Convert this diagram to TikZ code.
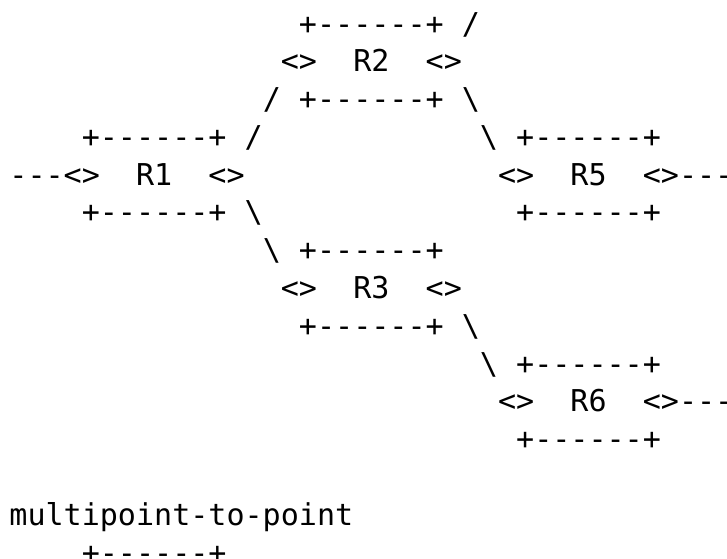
\documentclass[tikz,border=0pt]{standalone}
\usepackage{fontspec}
\setmonofont{DejaVu Sans Mono}
\newcommand{\asciifont}{\ttfamily\fontsize{15.03pt}{18pt}\selectfont}
\tikzset{ascii/.style={anchor=base west, inner sep=0pt, outer sep=0pt, font=\asciifont}}

\begin{document}
\begin{tikzpicture}[x=9.05pt, y=-18.9pt]
		%%%%% START %%%%%
		\useasboundingbox (-0.52, -0.90) rectangle (39.65, 13.888);
		
		% R2
		\node[ascii] (r2top) at (16, 0) {+------+};
		\node[ascii] (r2upout) at (25, 0) {/};
		\node[ascii] (r2left) at (15, 1) {<>};
		\node[ascii] (r2name) at (19, 1) {R2};
		\node[ascii] (r2right) at (23, 1) {<>};
		\node[ascii] (r2upin) at (14, 2) {/};
		\node[ascii] (r2bot) at (16, 2) {+------+};
		\node[ascii] (r2down) at (25, 2) {\textbackslash};
		
		% R1 and R5
		\node[ascii] (r1top) at (4, 3) {+------+};
		\node[ascii] (r1up) at (13, 3) {/};
		\node[ascii] (r5in) at (26, 3) {\textbackslash};
		\node[ascii] (r5top) at (28, 3) {+------+};
		\node[ascii] (r1left) at (0, 4) {---<>};
		\node[ascii] (r1name) at (7, 4) {R1};
		\node[ascii] (r1right) at (11, 4) {<>};
		\node[ascii] (r5left) at (27, 4) {<>};
		\node[ascii] (r5name) at (31, 4) {R5};
		\node[ascii] (r5right) at (35, 4) {<>---};
		\node[ascii] (r1bot) at (4, 5) {+------+};
		\node[ascii] (r1down) at (13, 5) {\textbackslash};
		\node[ascii] (r5bot) at (28, 5) {+------+};
		
		% R3
		\node[ascii] (r3in) at (14, 6) {\textbackslash};
		\node[ascii] (r3top) at (16, 6) {+------+};
		\node[ascii] (r3left) at (15, 7) {<>};
		\node[ascii] (r3name) at (19, 7) {R3};
		\node[ascii] (r3right) at (23, 7) {<>};
		\node[ascii] (r3bot) at (16, 8) {+------+};
		\node[ascii] (r3down) at (25, 8) {\textbackslash};
		
		% R6
		\node[ascii] (r6in) at (26, 9) {\textbackslash};
		\node[ascii] (r6top) at (28, 9) {+------+};
		\node[ascii] (r6left) at (27, 10) {<>};
		\node[ascii] (r6name) at (31, 10) {R6};
		\node[ascii] (r6right) at (35, 10) {<>---};
		\node[ascii] (r6bot) at (28, 11) {+------+};
		
		% caption
		\node[ascii] (title) at (0, 13) {multipoint-to-point};
		\node[ascii] (nexttop) at (4, 14) {+------+};
		
		%%%%% END %%%%%
\end{tikzpicture}
\end{document}
